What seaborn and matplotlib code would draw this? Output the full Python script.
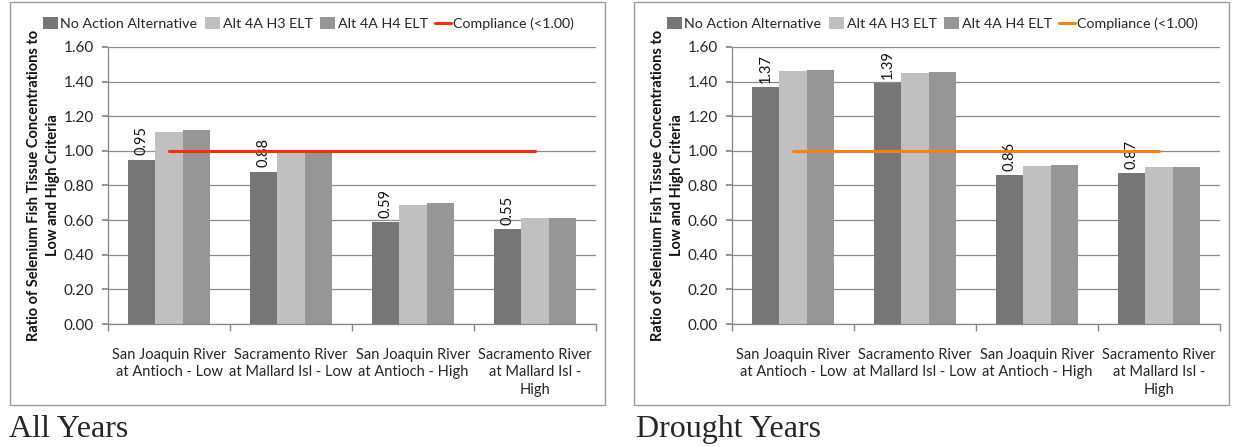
import numpy as np
import pandas as pd
import seaborn as sns
import matplotlib.pyplot as plt
from matplotlib.patches import Rectangle, Patch
from matplotlib.lines import Line2D

# -------------------------------
# DATA
# -------------------------------
sites = [
    "San Joaquin River\nat Antioch - Low",
    "Sacramento River\nat Mallard Isl - Low",
    "San Joaquin River\nat Antioch - High",
    "Sacramento River\nat Mallard Isl -\nHigh",
]
scenarios = ["No Action Alternative", "Alt 4A H3 ELT", "Alt 4A H4 ELT"]

all_no_action = [0.95, 0.88, 0.59, 0.55]
all_h3 = [1.11, 0.985, 0.69, 0.615]
all_h4 = [1.12, 0.985, 0.70, 0.615]

drought_no_action = [1.37, 1.39, 0.86, 0.87]
drought_h3 = [1.46, 1.45, 0.91, 0.905]
drought_h4 = [1.47, 1.455, 0.92, 0.908]

compliance = [1.00, 1.00, 1.00, 1.00]

panel_titles = ["All Years", "Drought Years"]
line_colors = ["#ff2a0a", "#ff7f0e"]
bar_colors = ["#767676", "#c0c0c0", "#969696"]

ylabel = "Ratio of Selenium Fish Tissue Concentrations to\nLow and High Criteria"


def make_df(no_action, h3, h4):
    rows = []
    for name, vals in zip(scenarios, [no_action, h3, h4]):
        for site, v in zip(sites, vals):
            rows.append({"site": site, "scenario": name, "ratio": v})
    return pd.DataFrame(rows)


panels = [
    make_df(all_no_action, all_h3, all_h4),
    make_df(drought_no_action, drought_h3, drought_h4),
]

# -------------------------------
# FIGURE
# -------------------------------
sns.set_theme(style="white")
plt.rcParams["font.family"] = ["Lato", "DejaVu Sans"]

W, H = 1233, 447
fig = plt.figure(figsize=(W / 100, H / 100), dpi=100)

axes_px = [(108, 596), (732, 1220)]
frames_px = [(10, 605), (634, 1229)]
caption_x = [9, 636]

for i, df in enumerate(panels):
    x0, x1 = axes_px[i]
    ax = fig.add_axes([x0 / W, 1 - 324 / H, (x1 - x0) / W, (324 - 47) / H])

    # panel frame
    fx0, fx1 = frames_px[i]
    fig.patches.append(Rectangle((fx0 / W, 1 - 405 / H), (fx1 - fx0) / W, (405 - 2) / H,
                                 transform=fig.transFigure, fill=False,
                                 edgecolor="#9a9a9a", linewidth=1.0))

    sns.barplot(data=df, x="site", y="ratio", hue="scenario", hue_order=scenarios,
                palette=bar_colors, width=0.67, gap=0, saturation=1, ax=ax,
                edgecolor="none", linewidth=0, legend=False)

    # compliance line across category centers
    ax.plot(np.arange(len(sites)), compliance, color=line_colors[i], linewidth=2.2, zorder=5)

    # data labels on No Action bars
    ax.bar_label(ax.containers[0], fmt="%.2f", rotation=90, padding=3, fontsize=10.5,
                 color="#111111")

    ax.set_ylim(0, 1.6)
    ax.set_yticks(np.arange(0, 1.61, 0.2))
    ax.set_yticklabels([f"{v:.2f}" for v in np.arange(0, 1.61, 0.2)], fontsize=11)
    ax.set_xlim(-0.5, len(sites) - 0.5)
    ax.set_xticks(np.arange(len(sites)))
    ax.set_xticklabels(sites, fontsize=10.5, linespacing=1.35)
    ax.tick_params(axis="x", length=0, pad=17)
    ax.tick_params(axis="y", length=4, color="#868686", direction="out", pad=6, left=True)

    # category boundary ticks
    ax.set_xticks(np.arange(-0.5, len(sites), 1.0), minor=True)
    ax.tick_params(axis="x", which="minor", length=5, color="#868686", direction="out", bottom=True)

    ax.yaxis.grid(True, color="#8c8c8c", linewidth=0.9)
    ax.set_axisbelow(True)
    for s in ["top", "right"]:
        ax.spines[s].set_visible(False)
    for s in ["left", "bottom"]:
        ax.spines[s].set_color("#868686")
        ax.spines[s].set_linewidth(0.9)

    ax.set_xlabel("")
    ax.set_ylabel(ylabel, fontsize=10.5, fontweight="bold", labelpad=3, linespacing=1.45,
                  color="#111111")

    # legend on top
    handles = [Patch(facecolor=c, edgecolor="none") for c in bar_colors]
    handles.append(Line2D([0], [0], color=line_colors[i], linewidth=2.2))
    labels = scenarios + ["Compliance (<1.00)"]
    ax.legend(handles, labels, loc="lower center", bbox_to_anchor=(0.41, 1.04), ncol=4,
              frameon=False, fontsize=10.3, handlelength=1.1, handleheight=0.9,
              handletextpad=0.15, columnspacing=0.5, borderaxespad=0)

    fig.text(caption_x[i] / W, 1 - 437 / H, panel_titles[i], fontsize=23,
             family=["Liberation Serif", "DejaVu Serif"], va="baseline", ha="left")

fig.savefig("out.png", dpi=100)
